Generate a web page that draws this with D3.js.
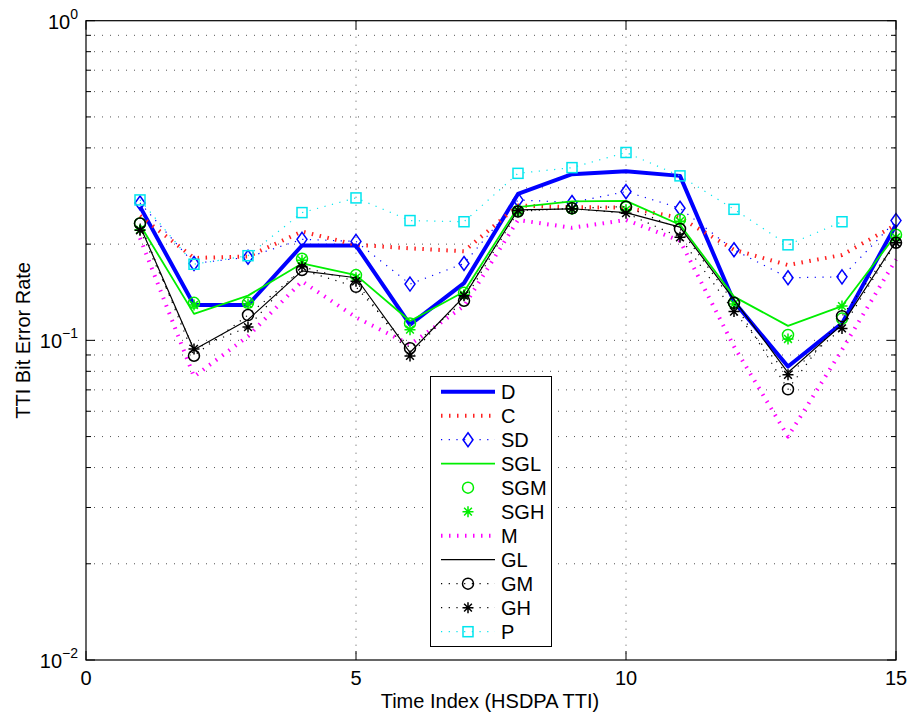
<!DOCTYPE html>
<html><head><meta charset="utf-8">
<script src="https://cdn.jsdelivr.net/npm/d3@7"></script>
<style>body{margin:0;background:#fff;}svg{display:block;font-family:"Liberation Sans",Arial,sans-serif;}</style>
</head><body><svg id="c" width="914" height="719"></svg>
<script>
const timeIdx = d3.range(1, 16);
const D   = [0.262,0.129,0.129,0.198,0.198,0.112,0.151,0.287,0.331,0.338,0.327,0.132,0.0828,0.113,0.230];
const C   = [0.245,0.181,0.183,0.219,0.199,0.194,0.190,0.264,0.261,0.260,0.242,0.192,0.172,0.185,0.230];
const SD  = [0.269,0.174,0.182,0.207,0.204,0.150,0.174,0.275,0.270,0.292,0.259,0.192,0.157,0.158,0.237];
const SGL = [0.230,0.121,0.138,0.174,0.160,0.115,0.142,0.261,0.272,0.273,0.230,0.137,0.111,0.128,0.214];
const SGM = [0.232,0.131,0.131,0.180,0.160,0.113,0.141,0.254,0.259,0.261,0.239,0.131,0.104,0.117,0.214];
const SGH = [0.222,0.129,0.130,0.178,0.157,0.108,0.139,0.252,0.257,0.256,0.236,0.130,0.101,0.128,0.210];
const M   = [0.209,0.077,0.103,0.153,0.118,0.097,0.128,0.238,0.225,0.238,0.205,0.0957,0.050,0.0934,0.179];
const GL  = [0.228,0.0934,0.116,0.165,0.157,0.0916,0.137,0.256,0.258,0.251,0.226,0.134,0.0793,0.112,0.204];
const GM  = [0.232,0.0895,0.120,0.166,0.147,0.0945,0.133,0.253,0.259,0.262,0.223,0.131,0.0703,0.119,0.202];
const GH  = [0.221,0.094,0.110,0.170,0.153,0.0894,0.138,0.255,0.258,0.250,0.210,0.123,0.078,0.109,0.202];
const P   = [0.275,0.173,0.184,0.251,0.279,0.237,0.235,0.333,0.347,0.387,0.327,0.257,0.199,0.235];
const xTicks = [0,5,10,15];
const yTicks = [0.01,0.1,1];
const yExp = ["\u22122","\u22121","0"];

const L=86,R=896,T=20.7,B=660;
const FS=20;
const svg=d3.select("#c");
const x=d3.scaleLinear().domain([0,15]).range([L,R]);
const y=d3.scaleLog().domain([0.01,1]).range([B,T]);

// grid
const minor=[];
[0.01,0.1].forEach(d=>{for(let k=2;k<=9;k++)minor.push(d*k);});
const gridY=minor.concat([0.1]);
const g=svg.append("g");
g.selectAll(".gy").data(gridY).enter().append("line")
 .attr("x1",L).attr("x2",R).attr("y1",d=>y(d)).attr("y2",d=>y(d))
 .attr("stroke","#555").attr("stroke-width",1).attr("stroke-dasharray","1,7");
g.selectAll(".gx").data([5,10]).enter().append("line")
 .attr("y1",T).attr("y2",B).attr("x1",d=>x(d)).attr("x2",d=>x(d))
 .attr("stroke","#555").attr("stroke-width",1).attr("stroke-dasharray","1,7");

// ticks
const tk=svg.append("g").attr("stroke","#000").attr("stroke-width",1);
minor.forEach(v=>{tk.append("line").attr("x1",L).attr("x2",L+5).attr("y1",y(v)).attr("y2",y(v));
 tk.append("line").attr("x1",R).attr("x2",R-5).attr("y1",y(v)).attr("y2",y(v));});
yTicks.forEach(v=>{tk.append("line").attr("x1",L).attr("x2",L+9).attr("y1",y(v)).attr("y2",y(v));
 tk.append("line").attr("x1",R).attr("x2",R-9).attr("y1",y(v)).attr("y2",y(v));});
xTicks.forEach(v=>{tk.append("line").attr("x1",x(v)).attr("x2",x(v)).attr("y1",B).attr("y2",B-9);
 tk.append("line").attr("x1",x(v)).attr("x2",x(v)).attr("y1",T).attr("y2",T+9);});

// tick labels
const xl=svg.append("g").attr("font-size",FS).attr("fill","#000").attr("text-anchor","middle");
xTicks.forEach(v=>xl.append("text").attr("x",x(v)).attr("y",685).text(v));
yTicks.forEach((v,i)=>{
  const t=svg.append("text").attr("font-size",FS).attr("text-anchor","end").attr("y",y(v)+8).attr("x",78);
  t.append("tspan").text("10");
  t.append("tspan").attr("font-size",14).attr("dy",-10).text(yExp[i]);
});
svg.append("text").attr("x",(L+R)/2-1).attr("y",708).attr("font-size",FS).attr("text-anchor","middle").text("Time Index (HSDPA TTI)");
svg.append("text").attr("transform","translate(30,"+((T+B)/2)+") rotate(-90)").attr("font-size",FS).attr("text-anchor","middle").text("TTI Bit Error Rate");

// markers
function marker(sel,type,color,px,py){
  if(type==="diamond") sel.append("path").attr("d",`M${px},${py-7}L${px+5},${py}L${px},${py+7}L${px-5},${py}Z`).attr("fill","none").attr("stroke",color).attr("stroke-width",1.5);
  else if(type==="circle") sel.append("circle").attr("cx",px).attr("cy",py).attr("r",5.5).attr("fill","none").attr("stroke",color).attr("stroke-width",1.5);
  else if(type==="square") sel.append("rect").attr("x",px-5).attr("y",py-5).attr("width",10).attr("height",10).attr("fill","none").attr("stroke",color).attr("stroke-width",1.5);
  else if(type==="star"){const r=5.5,d=r*0.7071;
    sel.append("path").attr("d",`M${px-r},${py}L${px+r},${py}M${px},${py-r}L${px},${py+r}M${px-d},${py-d}L${px+d},${py+d}M${px-d},${py+d}L${px+d},${py-d}`).attr("stroke",color).attr("stroke-width",1.5);}
}
const series=[
 {name:"D",data:D,color:"#0000ff",w:4,dash:null,mk:null},
 {name:"C",data:C,color:"#ff2020",w:4,dash:"1.5,6.5",mk:null},
 {name:"SD",data:SD,color:"#0000ff",w:1.2,dash:"1.2,6.5",mk:"diamond"},
 {name:"SGL",data:SGL,color:"#00ee00",w:1.8,dash:null,mk:null},
 {name:"SGM",data:SGM,color:"#00ee00",w:0,dash:null,mk:"circle"},
 {name:"SGH",data:SGH,color:"#00ee00",w:0,dash:null,mk:"star"},
 {name:"M",data:M,color:"#ff00ff",w:4,dash:"1.5,6.5",mk:null},
 {name:"GL",data:GL,color:"#000000",w:1.2,dash:null,mk:null},
 {name:"GM",data:GM,color:"#000000",w:1.2,dash:"1.2,6.5",mk:"circle"},
 {name:"GH",data:GH,color:"#000000",w:1.2,dash:"1.2,6.5",mk:"star"},
 {name:"P",data:P,color:"#00e5ee",w:1.2,dash:"1.2,6.5",mk:"square"}
];
const line=d3.line().x((d,i)=>x(timeIdx[i])).y(d=>y(d));
const pg=svg.append("g");
series.forEach(s=>{
  const gg=pg.append("g");
  if(s.w>0) gg.append("path").attr("d",line(s.data)).attr("fill","none").attr("stroke",s.color).attr("stroke-width",s.w).attr("stroke-dasharray",s.dash).attr("stroke-linejoin","round");
  if(s.mk) s.data.forEach((v,i)=>marker(gg,s.mk,s.color,x(timeIdx[i]),y(v)));
});

// axes box
svg.append("rect").attr("x",L).attr("y",T).attr("width",R-L).attr("height",B-T).attr("fill","none").attr("stroke","#000").attr("stroke-width",1.2);

// legend
const lg=svg.append("g");
lg.append("rect").attr("x",430.5).attr("y",376.5).attr("width",121).attr("height",270).attr("fill","#fff").attr("stroke","#000").attr("stroke-width",1);
series.forEach((s,i)=>{
  const cy=391.7+24*i;
  if(s.w>0) lg.append("line").attr("x1",441).attr("x2",495).attr("y1",cy).attr("y2",cy).attr("stroke",s.color).attr("stroke-width",s.w).attr("stroke-dasharray",s.dash);
  if(s.mk) marker(lg,s.mk,s.color,468,cy);
  lg.append("text").attr("x",501).attr("y",cy+7).attr("font-size",FS).text(s.name);
});
</script></body></html>
